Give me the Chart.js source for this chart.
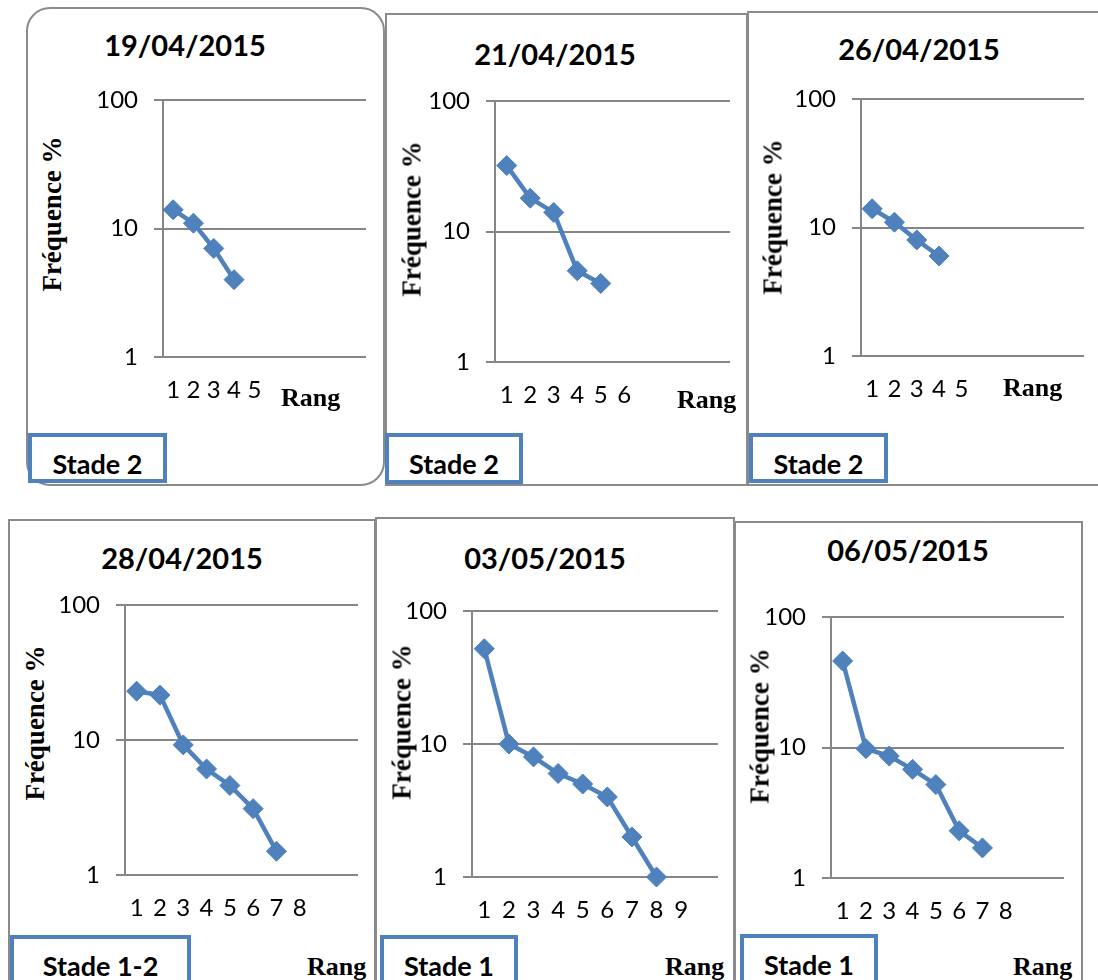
<!DOCTYPE html>
<html>
<head>
<meta charset="utf-8">
<script src="https://cdn.jsdelivr.net/npm/chart.js@4.4.0/dist/chart.umd.min.js"></script>
<style>
  body { margin: 0; background: #fff; }
  #page { position: relative; width: 1098px; height: 980px; overflow: hidden; background: #fff; }
  .frame { position: absolute; border: 2px solid #8a8a8a; box-sizing: border-box; }
  .plot { position: absolute; }
  .title { position: absolute; font: bold 29px Lato, sans-serif; transform: translate(-50%, -50%); white-space: nowrap; line-height: 1; }
  .ytitle { position: absolute; font: bold 27px "Liberation Serif", serif; transform: translate(-50%, -50%) rotate(-90deg); white-space: nowrap; line-height: 1; }
  .rang { position: absolute; font: bold 26px "Liberation Serif", serif; transform: translateY(-50%); white-space: nowrap; line-height: 1; }
  .stade { position: absolute; border: 4px solid #4f81bd; box-sizing: border-box; background: #fff; }
  .stade span { position: absolute; left: 50%; top: 26px; transform: translate(-50%, -50%); font: bold 27px Lato, sans-serif; white-space: nowrap; line-height: 1; }
</style>
</head>
<body>
<div id="page"></div>
<script>
// data
const dates = ['19/04/2015', '21/04/2015', '26/04/2015', '28/04/2015', '03/05/2015', '06/05/2015'];
const stades = ['Stade 2', 'Stade 2', 'Stade 2', 'Stade 1-2', 'Stade 1', 'Stade 1'];

const rangs1 = ['1', '2', '3', '4', '5'];
const rangs2 = ['1', '2', '3', '4', '5', '6'];
const rangs3 = ['1', '2', '3', '4', '5'];
const rangs4 = ['1', '2', '3', '4', '5', '6', '7', '8'];
const rangs5 = ['1', '2', '3', '4', '5', '6', '7', '8', '9'];
const rangs6 = ['1', '2', '3', '4', '5', '6', '7', '8'];

const freq1 = [14, 11, 7, 4];
const freq2 = [32, 18, 14, 5, 4];
const freq3 = [14, 11, 8, 6];
const freq4 = [23, 21.5, 9.2, 6.1, 4.6, 3.1, 1.5];
const freq5 = [52, 10, 8, 6, 5, 4, 2, 1];
const freq6 = [46, 9.8, 8.6, 6.8, 5.2, 2.3, 1.7];

const freqTicks = [1, 10, 100];
const yTitle = 'Fréquence %';
const xTitle = 'Rang';

const allRangs = [rangs1, rangs2, rangs3, rangs4, rangs5, rangs6];
const allFreqs = [freq1, freq2, freq3, freq4, freq5, freq6];

// page layout of each panel (pixels)
const panels = [
    { frame: [26, 7, 359, 479], round: 24, area: [163, 100, 373, 357], title: [185, 44], ytitle: [52, 214], rang: [281, 398], stade: [28, 433, 139, 50] },
    { frame: [385, 13, 363, 473], round: 0, area: [495, 101, 737, 362], title: [555, 53], ytitle: [412, 219], rang: [677, 400], stade: [385, 433, 138, 51] },
    { frame: [747, 11, 360, 475], round: 0, area: [861, 99, 1091, 356], title: [919, 48], ytitle: [773, 217], rang: [1003, 388], stade: [749, 433, 139, 50] },
    { frame: [8, 519, 368, 470], round: 0, area: [125, 605, 365, 875], title: [182, 557], ytitle: [35, 723], rang: [307, 967], stade: [10, 935, 181, 60] },
    { frame: [375, 517, 360, 470], round: 0, area: [472, 611, 725, 877], title: [545, 557], ytitle: [402, 722], rang: [665, 967], stade: [380, 935, 138, 60] },
    { frame: [734, 521, 349, 470], round: 0, area: [831, 617, 1071, 878], title: [908, 549], ytitle: [760, 726], rang: [1013, 967], stade: [740, 934, 138, 60] }
];
const slotCount = 10;
const yAxisWidth = 75, xAxisHeight = 50, padRight = 4;
const yTickPadding = 16;
const tickFont = { family: 'Lato', size: 24, lineHeight: '26px' };
// chart.js keeps half a tick line plus the tick padding free above the top tick
const topRoom = 13 + yTickPadding;

const page = document.getElementById('page');

function addDiv(cls, x, y, text) {
    const d = document.createElement('div');
    d.className = cls;
    d.style.left = x + 'px';
    d.style.top = y + 'px';
    if (text) d.textContent = text;
    page.appendChild(d);
    return d;
}

panels.forEach((p) => {
    const f = addDiv('frame', p.frame[0], p.frame[1]);
    f.style.width = p.frame[2] + 'px';
    f.style.height = p.frame[3] + 'px';
    if (p.round) f.style.borderRadius = p.round + 'px';
});

panels.forEach((p, i) => {
    const [l, t, r, b] = p.area;
    const canvas = document.createElement('canvas');
    canvas.className = 'plot';
    canvas.width = r - l + yAxisWidth + padRight;
    canvas.height = b - t + topRoom + xAxisHeight;
    canvas.style.left = (l - yAxisWidth) + 'px';
    canvas.style.top = (t - topRoom) + 'px';
    page.appendChild(canvas);

    const labels = Array.from({ length: slotCount }, (_, k) => allRangs[i][k] || '');

    new Chart(canvas, {
        type: 'line',
        data: {
            labels: labels,
            datasets: [{
                data: allFreqs[i],
                borderColor: '#4f81bd',
                backgroundColor: '#4f81bd',
                borderWidth: 4.5,
                pointStyle: 'rectRot',
                pointRadius: 10,
                pointBorderWidth: 1,
                pointBackgroundColor: '#4f81bd',
                pointBorderColor: '#4a7ebb',
                tension: 0,
                clip: false
            }]
        },
        options: {
            responsive: false,
            animation: false,
            layout: { padding: { top: 0, right: padRight, left: 0, bottom: 0 } },
            plugins: { legend: { display: false }, tooltip: { enabled: false } },
            scales: {
                x: {
                    type: 'category',
                    offset: true,
                    grid: { display: false, drawTicks: false },
                    border: { display: false },
                    ticks: { padding: 20, autoSkip: false, maxRotation: 0, color: '#000', font: tickFont },
                    afterFit: function (scale) { scale.height = xAxisHeight; }
                },
                y: {
                    type: 'logarithmic',
                    min: 1,
                    max: 100,
                    afterBuildTicks: function (scale) {
                        scale.ticks = freqTicks.map(v => ({ value: v }));
                    },
                    ticks: {
                        padding: yTickPadding,
                        color: '#000',
                        font: tickFont,
                        callback: function (value) { return String(value); }
                    },
                    grid: { color: '#868686', lineWidth: 2, tickLength: 9 },
                    border: { color: '#868686', width: 2 },
                    afterFit: function (scale) { scale.width = yAxisWidth; }
                }
            }
        }
    });
});

panels.forEach((p, i) => {
    addDiv('title', p.title[0], p.title[1], dates[i]);
    addDiv('ytitle', p.ytitle[0], p.ytitle[1], yTitle);
    addDiv('rang', p.rang[0], p.rang[1], xTitle);
    const s = addDiv('stade', p.stade[0], p.stade[1]);
    s.style.width = p.stade[2] + 'px';
    s.style.height = p.stade[3] + 'px';
    const sp = document.createElement('span');
    sp.textContent = stades[i];
    s.appendChild(sp);
});
</script>
</body>
</html>
